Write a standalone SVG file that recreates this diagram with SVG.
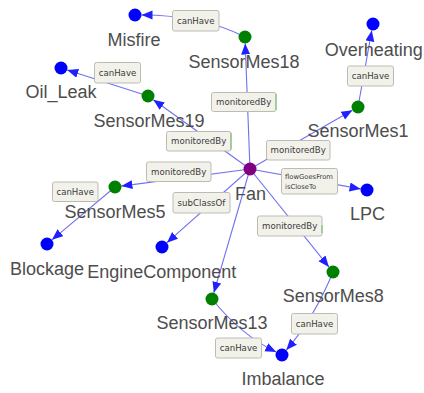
<svg xmlns="http://www.w3.org/2000/svg" width="424" height="393" viewBox="0 0 424 393">
<style>
.e{fill:none;stroke:#7070f0;stroke-width:1.1;marker-end:url(#ah)}
.lb rect{fill:#f2f2eb;stroke:#bcbcb4;stroke-width:1}
.lb text{font-family:"DejaVu Sans",sans-serif;font-size:8.6px;fill:#3a3a3a;text-anchor:middle}
.lb text.s{font-size:6.8px;text-anchor:start}
.gs{stroke:#7cc47c;stroke-width:1.2}
.nl{font-family:"Liberation Sans",Arial,sans-serif;font-size:18px;fill:#4d4d4d;text-anchor:middle}
.b{fill:#0000ff}.g{fill:#008000}.p{fill:#800080}
</style>
<defs>
<marker id="ah" markerUnits="userSpaceOnUse" markerWidth="12" markerHeight="10" refX="11" refY="4.5" orient="auto">
<path d="M0,0 L11,4.5 L0,9 Z" fill="#1f1fff"/>
</marker>
</defs>
<rect width="424" height="393" fill="#ffffff"/>
<g id="connectors">
<line class="e" x1="250" y1="169" x2="245.2" y2="43.5"/>
<path class="e" d="M245,37 Q202,15 141.5,15"/>
<line class="e" x1="250" y1="169" x2="153.3" y2="99.8"/>
<line class="e" x1="148" y1="96" x2="67.2" y2="70"/>
<line class="e" x1="250" y1="169" x2="121.4" y2="186.1"/>
<line class="e" x1="115" y1="187" x2="52" y2="239.8"/>
<line class="e" x1="250" y1="169" x2="166.9" y2="242.7"/>
<line class="e" x1="250" y1="169" x2="213.8" y2="292.8"/>
<path class="e" d="M212,299 Q240.7,334.8 276.2,352.1"/>
<line class="e" x1="250" y1="169" x2="328.9" y2="266.9"/>
<path class="e" d="M333,272 Q314.3,317.7 286.3,350.1"/>
<line class="e" x1="250" y1="169" x2="352.4" y2="110.2"/>
<line class="e" x1="358" y1="107" x2="371.8" y2="30.4"/>
<line class="e" x1="250" y1="169" x2="360.6" y2="188.9"/>
<g id="edge-labels">
<g class="lb"><rect x="172.5" y="10.5" width="46.5" height="20.5" rx="2"/><text x="195.7" y="23.5">canHave</text></g>
<g class="lb"><rect x="211.5" y="92.5" width="64.5" height="19" rx="2"/><text x="243.7" y="104.6">monitoredBy</text><line class="gs" x1="276" y1="94" x2="276" y2="110"/></g>
<g class="lb"><rect x="94.5" y="62.5" width="46" height="20.5" rx="2"/><text x="117.5" y="75.6">canHave</text></g>
<g class="lb"><rect x="166.5" y="131.5" width="64.5" height="19.5" rx="2"/><text x="198.7" y="144.2">monitoredBy</text><line class="gs" x1="231" y1="133" x2="231" y2="149.5"/></g>
<g class="lb"><rect x="347.5" y="66" width="46" height="20" rx="2"/><text x="370.5" y="78.9">canHave</text></g>
<g class="lb"><rect x="266.5" y="140.5" width="63.5" height="19.5" rx="2"/><text x="298.2" y="153.2">monitoredBy</text></g>
<g class="lb"><rect x="281.5" y="168.5" width="56" height="25.5" rx="2"/><text class="s" x="285" y="178.6">flowGoesFrom</text><text class="s" x="285" y="189.4">isCloseTo</text></g>
<g class="lb"><rect x="146.5" y="162" width="64.5" height="19.5" rx="2"/><text x="178.7" y="174.8">monitoredBy</text></g>
<g class="lb"><rect x="52.5" y="182" width="45.5" height="19.5" rx="2"/><text x="75.2" y="194.8">canHave</text></g>
<g class="lb"><rect x="173" y="192.5" width="57" height="20.5" rx="2"/><text x="201.5" y="205.6">subClassOf</text></g>
<g class="lb"><rect x="257.5" y="216" width="64.5" height="20" rx="2"/><text x="289.7" y="228.9">monitoredBy</text><line class="gs" x1="322" y1="225" x2="322" y2="233"/></g>
<g class="lb"><rect x="291.5" y="313.5" width="46" height="20.5" rx="2"/><text x="314.5" y="326.6">canHave</text></g>
<g class="lb"><rect x="215.5" y="338" width="46" height="20" rx="2"/><text x="238.5" y="350.9">canHave</text></g>
</g>
</g>
<g id="Fan"><circle class="p" cx="250" cy="169" r="6.5"/><text class="nl" x="250.5" y="200">Fan</text></g>
<g id="SensorMes18"><circle class="g" cx="245" cy="37" r="6.5"/><text class="nl" x="244" y="68.3">SensorMes18</text></g>
<g id="Misfire"><circle class="b" cx="135" cy="15" r="6.5"/><text class="nl" x="134" y="45.5">Misfire</text></g>
<g id="SensorMes19"><circle class="g" cx="148" cy="96" r="6.5"/><text class="nl" x="149" y="126.7">SensorMes19</text></g>
<g id="Oil_Leak"><circle class="b" cx="61" cy="68" r="6.5"/><text class="nl" x="61" y="97.7">Oil_Leak</text></g>
<g id="SensorMes1"><circle class="g" cx="358" cy="107" r="6.5"/><text class="nl" x="358" y="137">SensorMes1</text></g>
<g id="Overheating"><circle class="b" cx="373" cy="24" r="6.5"/><text class="nl" x="373.7" y="55.8">Overheating</text></g>
<g id="LPC"><circle class="b" cx="367" cy="190" r="6.5"/><text class="nl" x="367.5" y="220">LPC</text></g>
<g id="SensorMes5"><circle class="g" cx="115" cy="187" r="6.5"/><text class="nl" x="115" y="217.7">SensorMes5</text></g>
<g id="Blockage"><circle class="b" cx="47" cy="244" r="6.5"/><text class="nl" x="47" y="274.5">Blockage</text></g>
<g id="EngineComponent"><circle class="b" cx="162" cy="247" r="6.5"/><text class="nl" x="161.8" y="278.3">EngineComponent</text></g>
<g id="SensorMes13"><circle class="g" cx="212" cy="299" r="6.5"/><text class="nl" x="212" y="329.3">SensorMes13</text></g>
<g id="SensorMes8"><circle class="g" cx="333" cy="272" r="6.5"/><text class="nl" x="333.3" y="302.3">SensorMes8</text></g>
<g id="Imbalance"><circle class="b" cx="282" cy="355" r="6.5"/><text class="nl" x="283" y="385">Imbalance</text></g>
</svg>
